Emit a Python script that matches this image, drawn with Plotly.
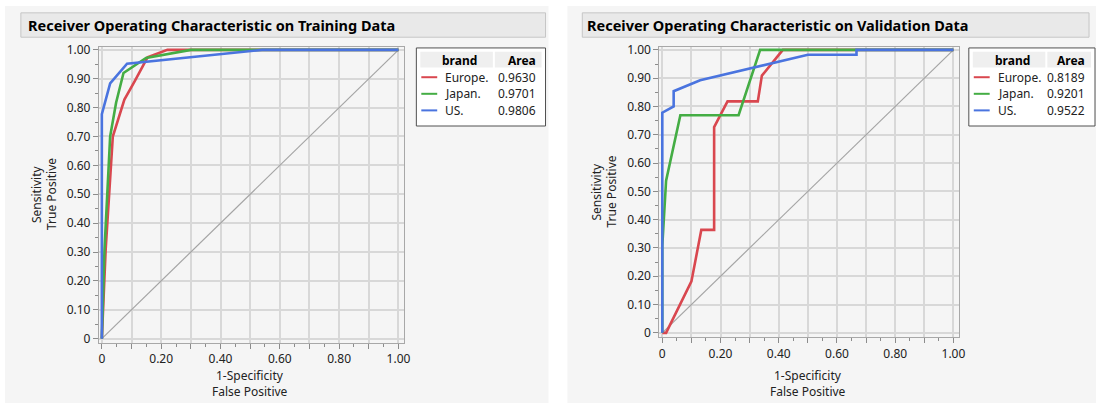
import plotly.graph_objects as go

W, H = 1102, 410

# ROC curves, training data
train_eu_fpr = [0, 0.013, 0.037, 0.076, 0.11, 0.154, 0.221, 1.0]
train_eu_tpr = [0, 0.31, 0.70, 0.828, 0.89, 0.974, 1.0, 1.0]
train_jp_fpr = [0, 0.009, 0.028, 0.048, 0.073, 0.149, 0.30, 1.0]
train_jp_tpr = [0, 0.31, 0.70, 0.817, 0.92, 0.972, 1.0, 1.0]
train_us_fpr = [0, 0, 0.028, 0.085, 0.54, 1.0]
train_us_tpr = [0, 0.777, 0.884, 0.952, 1.0, 1.0]

# ROC curves, validation data
valid_eu_fpr = [0, 0.013, 0.10, 0.134, 0.178, 0.178, 0.224, 0.328, 0.342, 0.414, 1.0]
valid_eu_tpr = [0, 0, 0.182, 0.364, 0.364, 0.727, 0.818, 0.818, 0.909, 1.0, 1.0]
valid_jp_fpr = [0, 0, 0.013, 0.062, 0.262, 0.336, 1.0]
valid_jp_tpr = [0, 0.308, 0.538, 0.769, 0.769, 1.0, 1.0]
valid_us_fpr = [0, 0, 0.039, 0.039, 0.13, 0.50, 0.667, 0.667, 1.0]
valid_us_tpr = [0, 0.778, 0.80, 0.854, 0.893, 0.983, 0.983, 1.0, 1.0]

brands = ["Europe.", "Japan.", "US."]
train_area = ["0.9630", "0.9701", "0.9806"]
valid_area = ["0.8189", "0.9201", "0.9522"]
colors = ["#d9474f", "#44ad44", "#4a74df"]

x_ticks = [0, 0.1, 0.2, 0.3, 0.4, 0.5, 0.6, 0.7, 0.8, 0.9, 1.0]
x_ticktext = ["0", "", "0.20", "", "0.40", "", "0.60", "", "0.80", "", "1.00"]
y_ticks = [0, 0.1, 0.2, 0.3, 0.4, 0.5, 0.6, 0.7, 0.8, 0.9, 1.0]
y_ticktext = ["0", "0.10", "0.20", "0.30", "0.40", "0.50", "0.60", "0.70", "0.80", "0.90", "1.00"]

FONT = "Noto Sans"
TXT = "#222222"
FS = 12


def px(x):
    return x / W


def py(y):
    return 1 - y / H


fig = go.Figure()

panels = [
    dict(xa="x", ya="y",
         curves=[(train_eu_fpr, train_eu_tpr), (train_jp_fpr, train_jp_tpr), (train_us_fpr, train_us_tpr)]),
    dict(xa="x2", ya="y2",
         curves=[(valid_eu_fpr, valid_eu_tpr), (valid_jp_fpr, valid_jp_tpr), (valid_us_fpr, valid_us_tpr)]),
]

for p in panels:
    fig.add_trace(go.Scatter(x=[0, 1], y=[0, 1], mode="lines", xaxis=p["xa"], yaxis=p["ya"],
                             line=dict(color="#a4a4a4", width=1.2), hoverinfo="skip", showlegend=False))
    for (fx, ty), name, col in zip(p["curves"], brands, colors):
        fig.add_trace(go.Scatter(x=fx, y=ty, mode="lines", name=name, xaxis=p["xa"], yaxis=p["ya"],
                                 line=dict(color=col, width=2.6), showlegend=False))


def xaxis_cfg(domain, anchor):
    return dict(domain=domain, range=[-0.01, 1.02], tickvals=x_ticks, ticktext=x_ticktext, anchor=anchor,
                showgrid=True, gridcolor="#d8d8d8", gridwidth=1.5, zeroline=False,
                showline=True, linecolor="#a8a8a8", linewidth=1, mirror=True,
                ticks="outside", ticklen=5, tickcolor="#8c8c8c",
                minor=dict(dtick=0.05, tick0=0, ticks="outside", ticklen=3, tickcolor="#8c8c8c", showgrid=False),
                tickfont=dict(family=FONT, size=FS, color=TXT), fixedrange=True)


def yaxis_cfg(domain, anchor):
    return dict(domain=domain, range=[-0.015, 1.01], tickvals=y_ticks, ticktext=y_ticktext, anchor=anchor,
                showgrid=True, gridcolor="#d8d8d8", gridwidth=1.5, zeroline=False,
                showline=True, linecolor="#a8a8a8", linewidth=1, mirror=True,
                ticks="outside", ticklen=5, tickcolor="#8c8c8c",
                minor=dict(dtick=0.05, tick0=0, ticks="outside", ticklen=3, tickcolor="#8c8c8c", showgrid=False),
                tickfont=dict(family=FONT, size=FS, color=TXT), fixedrange=True)


shapes = []
annotations = []

# panel backgrounds and title bars
for x0, x1, tx0, tx1 in [(4, 551, 20, 548), (570, 1102, 585, 1095)]:
    shapes.append(dict(type="rect", xref="paper", yref="paper", x0=px(x0), x1=px(x1), y0=py(407), y1=py(0),
                       fillcolor="#f5f5f5", line=dict(width=0), layer="below"))
    shapes.append(dict(type="rect", xref="paper", yref="paper", x0=px(tx0), x1=px(tx1), y0=py(32), y1=py(7),
                       fillcolor="#e9e9e9", line=dict(color="#c6c6c6", width=1), layer="below"))

titles = ["Receiver Operating Characteristic on Training Data",
          "Receiver Operating Characteristic on Validation Data"]
for tx, t in zip([25, 588], titles):
    annotations.append(dict(xref="paper", yref="paper", x=px(tx), y=py(19), xanchor="left", yanchor="middle",
                            text="<b>%s</b>" % t, showarrow=False,
                            font=dict(family=FONT, size=14.5, color="#000000")))

# axis titles
for cx, cy, sx, tpx in [(250.5, 193, 36, 51), (812, 190, 599, 614)]:
    annotations.append(dict(xref="paper", yref="paper", x=px(cx), y=py(379), text="1-Specificity",
                            showarrow=False, xanchor="center", yanchor="middle",
                            font=dict(family=FONT, size=FS, color=TXT)))
    annotations.append(dict(xref="paper", yref="paper", x=px(cx), y=py(395), text="False Positive",
                            showarrow=False, xanchor="center", yanchor="middle",
                            font=dict(family=FONT, size=FS, color=TXT)))
    annotations.append(dict(xref="paper", yref="paper", x=px(sx), y=py(cy), text="Sensitivity", textangle=-90,
                            showarrow=False, xanchor="center", yanchor="middle",
                            font=dict(family=FONT, size=FS, color=TXT)))
    annotations.append(dict(xref="paper", yref="paper", x=px(tpx), y=py(cy), text="True Positive", textangle=-90,
                            showarrow=False, xanchor="center", yanchor="middle",
                            font=dict(family=FONT, size=FS, color=TXT)))

# legend tables
row_y = [73, 90, 107]
for bx0, bx1, areas in [(418, 548, train_area), (974, 1101, valid_area)]:
    shapes.append(dict(type="rect", xref="paper", yref="paper", x0=px(bx0), x1=px(bx1), y0=py(123), y1=py(43),
                       fillcolor="#ffffff", line=dict(color="#505050", width=1)))
    shapes.append(dict(type="rect", xref="paper", yref="paper", x0=px(bx0 + 4), x1=px(bx0 + 77), y0=py(63),
                       y1=py(47), fillcolor="#efefef", line=dict(width=0)))
    shapes.append(dict(type="rect", xref="paper", yref="paper", x0=px(bx0 + 79), x1=px(bx1 - 4), y0=py(63),
                       y1=py(47), fillcolor="#efefef", line=dict(width=0)))
    annotations.append(dict(xref="paper", yref="paper", x=px(bx0 + 24), y=py(55.5), text="<b>brand</b>",
                            showarrow=False, xanchor="left", yanchor="middle",
                            font=dict(family=FONT, size=FS, color="#000000")))
    annotations.append(dict(xref="paper", yref="paper", x=px(bx1 - 8), y=py(55.5), text="<b>Area</b>",
                            showarrow=False, xanchor="right", yanchor="middle",
                            font=dict(family=FONT, size=FS, color="#000000")))
    for ry, name, area, col in zip(row_y, brands, areas, colors):
        shapes.append(dict(type="line", xref="paper", yref="paper", x0=px(bx0 + 5), x1=px(bx0 + 21),
                           y0=py(ry), y1=py(ry), line=dict(color=col, width=2)))
        annotations.append(dict(xref="paper", yref="paper", x=px(bx0 + 27), y=py(ry), text=name,
                                showarrow=False, xanchor="left", yanchor="middle",
                                font=dict(family=FONT, size=FS, color=TXT)))
        annotations.append(dict(xref="paper", yref="paper", x=px(bx1 - 8), y=py(ry), text=area,
                                showarrow=False, xanchor="right", yanchor="middle",
                                font=dict(family=FONT, size=FS, color=TXT)))

fig.update_layout(
    width=W, height=H,
    margin=dict(l=0, r=0, t=0, b=0),
    paper_bgcolor="#ffffff",
    plot_bgcolor="#ffffff",
    showlegend=False,
    xaxis=xaxis_cfg([px(98.5), px(406)], "y"),
    yaxis=yaxis_cfg([py(345.4), py(42)], "x"),
    xaxis2=xaxis_cfg([px(662.6), px(964.4)], "y2"),
    yaxis2=yaxis_cfg([py(339.4), py(42.1)], "x2"),
    shapes=shapes,
    annotations=annotations,
)

fig.write_html("out.html", config={"displayModeBar": False})
